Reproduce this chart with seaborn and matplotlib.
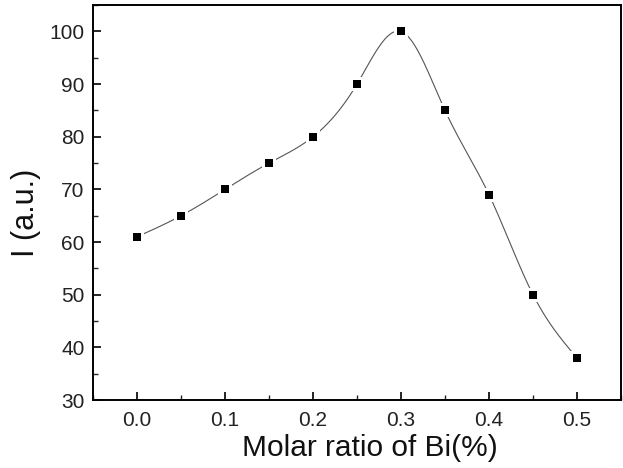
import numpy as np
import pandas as pd
import matplotlib
matplotlib.use("Agg")
import matplotlib.pyplot as plt
import seaborn as sns
from matplotlib.ticker import MultipleLocator

ratio = [0.0, 0.05, 0.10, 0.15, 0.20, 0.25, 0.30, 0.35, 0.40, 0.45, 0.50]
intensity = [61, 65, 70, 75, 80, 90, 100, 85, 69, 50, 38]
xticks = [0.0, 0.1, 0.2, 0.3, 0.4, 0.5]
yticks = [30, 40, 50, 60, 70, 80, 90, 100]


def natural_spline(x, y, n=400):
    x = np.asarray(x, float)
    y = np.asarray(y, float)
    m = len(x)
    h = np.diff(x)
    A = np.zeros((m, m))
    b = np.zeros(m)
    A[0, 0] = A[-1, -1] = 1
    for i in range(1, m - 1):
        A[i, i - 1] = h[i - 1]
        A[i, i] = 2 * (h[i - 1] + h[i])
        A[i, i + 1] = h[i]
        b[i] = 6 * ((y[i + 1] - y[i]) / h[i] - (y[i] - y[i - 1]) / h[i - 1])
    M = np.linalg.solve(A, b)
    xs = np.linspace(x[0], x[-1], n)
    idx = np.clip(np.searchsorted(x, xs) - 1, 0, m - 2)
    x0, x1 = x[idx], x[idx + 1]
    hh = x1 - x0
    t0, t1 = x1 - xs, xs - x0
    ys = (M[idx] * t0 ** 3 + M[idx + 1] * t1 ** 3) / (6 * hh) \
        + (y[idx] / hh - M[idx] * hh / 6) * t0 \
        + (y[idx + 1] / hh - M[idx + 1] * hh / 6) * t1
    return xs, ys


sns.set_theme(style="ticks")
plt.rcParams['font.family'] = ['Liberation Sans', 'DejaVu Sans']

df = pd.DataFrame({"ratio": ratio, "intensity": intensity})
xs, ys = natural_spline(ratio, intensity)
curve = pd.DataFrame({"ratio": xs, "intensity": ys})

fig = plt.figure(figsize=(6.23, 4.68), dpi=100)
ax = fig.add_axes([0.149, 0.145, 0.848, 0.844])

sns.lineplot(data=curve, x="ratio", y="intensity", ax=ax, color="#555555",
             linewidth=0.8, sort=False, estimator=None)
sns.scatterplot(data=df, x="ratio", y="intensity", ax=ax, marker="s", s=110,
                color="white", edgecolor="white", linewidth=0, zorder=3)
sns.scatterplot(data=df, x="ratio", y="intensity", ax=ax, marker="s", s=40,
                color="black", edgecolor="black", linewidth=0, zorder=4)

ax.set_xlim(-0.05, 0.55)
ax.set_ylim(30, 105)
ax.set_xticks(xticks)
ax.set_xticklabels([f"{v:.1f}" for v in xticks])
ax.set_yticks(yticks)
ax.xaxis.set_minor_locator(MultipleLocator(0.05))
ax.yaxis.set_minor_locator(MultipleLocator(5))
ax.tick_params(which="major", direction="in", length=6, width=1.2,
               labelsize=15, colors="black", labelcolor="#222222", pad=6)
ax.tick_params(axis="x", which="major", pad=8)
ax.tick_params(which="minor", direction="in", length=3.5, width=1.0)
ax.tick_params(axis="x", which="both", top=False)
ax.tick_params(axis="y", which="both", right=False)
for sp in ax.spines.values():
    sp.set_visible(True)
    sp.set_linewidth(1.4)
    sp.set_color("black")

ax.set_xlabel("Molar ratio of Bi(%)", fontsize=21.5, labelpad=3, color="#111111")
ax.set_ylabel("I (a.u.)", fontsize=22, labelpad=6, color="#111111")
ax.xaxis.label.set_x(0.525)
ax.yaxis.label.set_y(0.475)

fig.savefig("out.png", dpi=100, facecolor="white")
